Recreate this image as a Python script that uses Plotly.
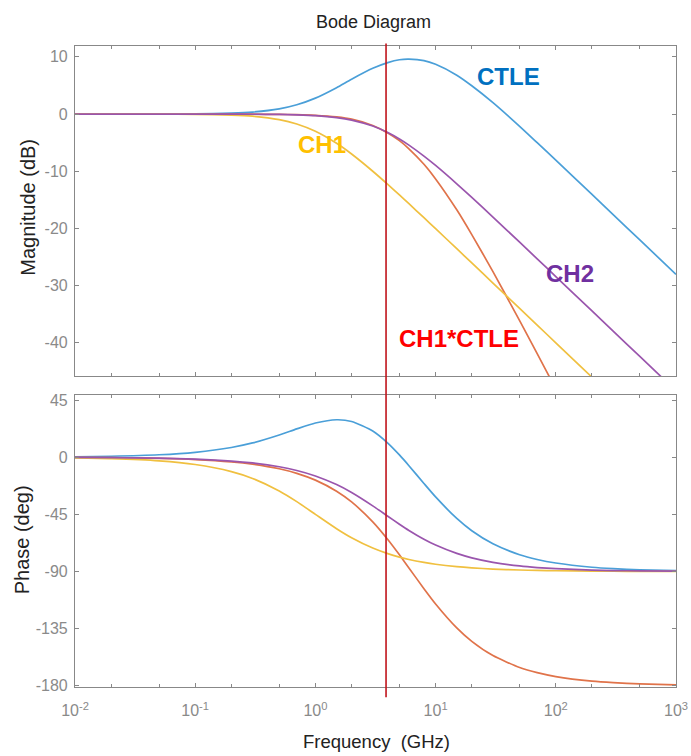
import plotly.graph_objects as go
from plotly.subplots import make_subplots

# Frequency samples (GHz)
freq_ghz = [0.01, 0.02, 0.05, 0.1, 0.2, 0.3, 0.5, 0.7, 1, 1.5, 2, 3, 4, 5, 6, 8,
            10, 15, 20, 30, 50, 70, 100, 200, 300, 500, 1000]

# Magnitude (dB)
mag_ctle = [0.00, 0.00, 0.01, 0.04, 0.16, 0.35, 0.91, 1.63, 2.79, 4.62, 6.10, 8.00,
            9.00, 9.50, 9.60, 9.35, 8.70, 6.80, 4.95, 2.00, -2.14, -5.00, -8.06,
            -14.06, -17.58, -22.01, -28.03]
mag_ch1 = [0.00, 0.00, -0.01, -0.04, -0.17, -0.37, -0.97, -1.73, -3.01, -5.12, -6.99,
           -10.00, -12.30, -14.15, -15.68, -18.13, -20.04, -23.54, -26.03, -29.55,
           -33.98, -36.90, -40.00, -46.02, -49.54, -53.98, -60.00]
mag_ch2 = [0.00, 0.00, 0.00, 0.00, -0.01, -0.03, -0.07, -0.15, -0.29, -0.63, -1.06,
           -2.10, -3.24, -4.36, -5.43, -7.35, -8.99, -12.20, -14.58, -18.01, -22.41,
           -25.32, -28.41, -34.43, -37.95, -42.38, -48.40]
mag_prod = [0.00, 0.00, 0.00, 0.00, -0.01, -0.02, -0.06, -0.10, -0.22, -0.50, -0.89,
            -2.00, -3.30, -4.65, -6.08, -8.78, -11.34, -16.74, -21.08, -27.55,
            -36.12, -41.90, -48.06, -60.08, -67.12, -75.99, -88.03]

# Phase (deg)
ph_ctle = [0.39, 0.78, 1.95, 3.89, 7.67, 11.25, 17.49, 22.31, 26.96, 29.53, 28.19,
           20.65, 11.14, 1.81, -6.66, -20.69, -31.29, -48.25, -57.90, -68.19,
           -76.79, -80.54, -83.35, -86.69, -87.79, -88.67, -89.34]
ph_ch1 = [-0.57, -1.15, -2.86, -5.71, -11.31, -16.70, -26.57, -34.99, -45.00, -56.31,
          -63.43, -71.57, -75.96, -78.69, -80.54, -82.87, -84.29, -86.19, -87.14,
          -88.09, -88.85, -89.18, -89.43, -89.71, -89.81, -89.89, -89.94]
ph_ch2 = [-0.15, -0.30, -0.75, -1.51, -3.01, -4.51, -7.50, -10.44, -14.74, -21.54,
          -27.76, -38.29, -46.47, -52.77, -57.65, -64.59, -69.19, -75.78, -79.24,
          -82.78, -85.65, -86.89, -87.82, -88.91, -89.27, -89.56, -89.78]
ph_prod = [-0.18, -0.36, -0.91, -1.82, -3.64, -5.45, -9.08, -12.68, -18.04, -26.78,
           -35.24, -50.92, -64.82, -76.88, -87.20, -103.56, -115.58, -134.44,
           -145.04, -156.28, -165.64, -169.72, -172.78, -176.40, -177.60, -178.56,
           -179.28]

marker_freq = 3.87  # GHz, vertical cursor

x_tickvals = [0.01, 0.1, 1, 10, 100, 1000]
x_ticktext = ["10<sup>-2</sup>", "10<sup>-1</sup>", "10<sup>0</sup>",
              "10<sup>1</sup>", "10<sup>2</sup>", "10<sup>3</sup>"]
mag_ticks = [10, 0, -10, -20, -30, -40]
mag_ticktext = ["10", "0", "-10", "-20", "-30", "-40"]
ph_ticks = [45, 0, -45, -90, -135, -180]
ph_ticktext = ["45", "0", "-45", "-90", "-135", "-180"]

series = [
    ("CTLE", mag_ctle, ph_ctle, "#4a9fd8"),
    ("CH1*CTLE", mag_prod, ph_prod, "#e0734a"),
    ("CH1", mag_ch1, ph_ch1, "#f0c040"),
    ("CH2", mag_ch2, ph_ch2, "#9a55ad"),
]

FONT = "Liberation Sans, Arial, sans-serif"

fig = make_subplots(rows=2, cols=1, shared_xaxes=False, vertical_spacing=0.03)
for name, m, p, c in series:
    fig.add_trace(go.Scatter(x=freq_ghz, y=m, mode="lines", name=name,
                             line=dict(color=c, width=1.7, shape="spline", smoothing=0.6),
                             showlegend=False), row=1, col=1)
    fig.add_trace(go.Scatter(x=freq_ghz, y=p, mode="lines", name=name,
                             line=dict(color=c, width=1.7, shape="spline", smoothing=0.6),
                             showlegend=False), row=2, col=1)

axis_common = dict(showline=True, linecolor="#888888", linewidth=1.2, mirror="ticks",
                   ticks="inside", ticklen=4, tickcolor="#888888", showgrid=False,
                   zeroline=False, automargin=False,
                   tickfont=dict(family=FONT, size=16, color="#8a8a8a"))

for r in (1, 2):
    fig.update_xaxes(type="log", range=[-2, 3], tickvals=x_tickvals,
                     ticktext=x_ticktext if r == 2 else [""] * 6,
                     ticklabelstandoff=9,
                     minor=dict(ticks="inside", ticklen=3, tickcolor="#888888", showgrid=False),
                     row=r, col=1, **axis_common)

fig.update_yaxes(range=[-45.8, 11.9], tickvals=mag_ticks, ticktext=mag_ticktext,
                 ticklabelstandoff=3, row=1, col=1, **axis_common)
fig.update_yaxes(range=[-181, 49], tickvals=ph_ticks, ticktext=ph_ticktext,
                 ticklabelstandoff=3, row=2, col=1, **axis_common)

fig.update_layout(
    width=691, height=756,
    margin=dict(l=75, r=15, t=46, b=69),
    paper_bgcolor="white", plot_bgcolor="white",
)
fig.update_layout(yaxis=dict(domain=[0.4852, 1.0]), yaxis2=dict(domain=[0.0, 0.4555]))

# titles as text annotations
fig.add_annotation(text="Bode Diagram", xref="paper", yref="paper", x=0.496, y=1.0374,
                   xanchor="center", yanchor="middle", showarrow=False,
                   font=dict(family=FONT, size=18, color="#222222"))
fig.add_annotation(text="Frequency  (GHz)", xref="paper", yref="paper", x=0.501, y=-0.0858,
                   xanchor="center", yanchor="middle", showarrow=False,
                   font=dict(family=FONT, size=18.5, color="#222222"))
fig.add_annotation(text="Magnitude (dB)", xref="paper", yref="paper", x=-0.0785, y=0.749,
                   xanchor="center", yanchor="middle", textangle=-90, showarrow=False,
                   font=dict(family=FONT, size=20, color="#222222"))
fig.add_annotation(text="Phase (deg)", xref="paper", yref="paper", x=-0.088, y=0.229,
                   xanchor="center", yanchor="middle", textangle=-90, showarrow=False,
                   font=dict(family=FONT, size=20, color="#222222"))

# vertical cursor line spanning both panels
fig.add_shape(type="line", xref="x", yref="paper", x0=marker_freq, x1=marker_freq,
              y0=1.004, y1=-0.016, line=dict(color="#c0141c", width=1.6))

labels = [
    ("CTLE", 1.61, 6.6, "#0070C0"),
    ("CH1", 0.055, -5.4, "#FFC000"),
    ("CH2", 2.118, -27.8, "#7030A0"),
    ("CH1*CTLE", 1.195, -39.3, "#FF0000"),
]
for t, lx, ly, c in labels:
    fig.add_annotation(x=lx, y=ly, xref="x", yref="y", text="<b>%s</b>" % t, showarrow=False,
                       xanchor="center", yanchor="middle",
                       font=dict(family=FONT, size=24, color=c))

fig.write_html("out.html", config={"displayModeBar": False},
               post_script="document.body.style.margin='0';document.body.style.padding='0';")
